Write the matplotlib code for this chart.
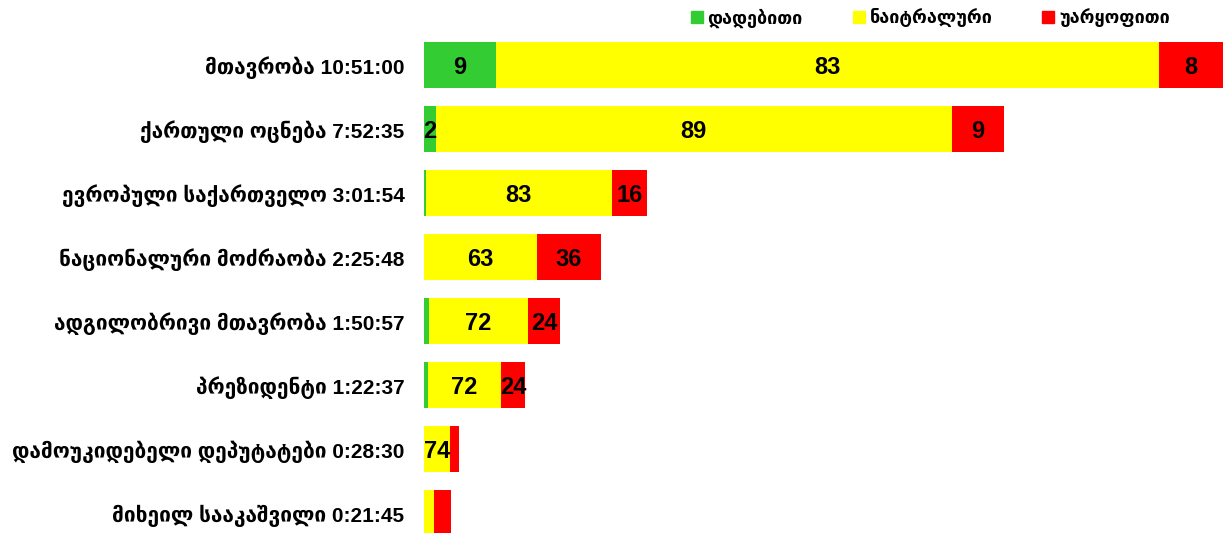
import matplotlib
matplotlib.use("Agg")
import matplotlib.pyplot as plt
from matplotlib.lines import Line2D

categories = ["მთავრობა 10:51:00", "ქართული ოცნება 7:52:35", "ევროპული საქართველო 3:01:54",
              "ნაციონალური მოძრაობა 2:25:48", "ადგილობრივი მთავრობა 1:50:57",
              "პრეზიდენტი 1:22:37", "დამოუკიდებელი დეპუტატები 0:28:30", "მიხეილ სააკაშვილი 0:21:45"]
durations = ["10:51:00", "7:52:35", "3:01:54", "2:25:48", "1:50:57", "1:22:37", "0:28:30", "0:21:45"]
positive = [9, 2, 1, 0, 4, 4, 0, 0]
neutral = [83, 89, 83, 63, 72, 72, 74, 37]
negative = [8, 9, 16, 36, 24, 24, 26, 63]
show_pos = [True, True, False, False, False, False, False, False]
show_neu = [True, True, True, True, True, True, True, False]
show_neg = [True, True, True, True, True, True, False, False]
series_names = ["დადებითი", "ნაიტრალური", "უარყოფითი"]
colors = ["#33CC33", "#FFFF00", "#FF0000"]

def secs(t):
    h, m, s = (int(x) for x in t.split(":"))
    return h * 3600 + m * 60 + s

tot = [secs(t) for t in durations]

fig = plt.figure(figsize=(12.23, 5.33), dpi=100)
ax = fig.add_axes([0.3467, -0.0225, 0.6533, 0.9606])
fam = ["Liberation Sans", "DejaVu Sans"]

y = list(range(len(categories)))
left = [0.0] * len(y)
for vals, shows, col in zip([positive, neutral, negative], [show_pos, show_neu, show_neg], colors):
    widths = [v / 100 * T for v, T in zip(vals, tot)]
    ax.barh(y, widths, left=left, height=0.73, color=col, edgecolor="none")
    for i, (w, l, v, sh) in enumerate(zip(widths, left, vals, shows)):
        if sh:
            ax.text(l + w / 2, i, str(v), ha="center", va="center_baseline", fontsize=17,
                    fontweight="bold", family=fam, color="black")
    left = [l + w for l, w in zip(left, widths)]

ax.set_xlim(0, max(tot))
ax.set_ylim(len(y) - 0.5, -0.5)
ax.set_yticks(y)
ax.set_yticklabels(categories, fontsize=15, fontweight="bold", family=fam)
ax.tick_params(axis="y", length=0, pad=14)
ax.set_xticks([])
for s in ax.spines.values():
    s.set_visible(False)

handles = [Line2D([0], [0], marker="s", linestyle="none", markersize=8,
                  markerfacecolor=c, markeredgecolor=c) for c in colors]
fig.legend(handles, series_names, loc="upper left", bbox_to_anchor=(0.549, 1.015), ncol=3,
           frameon=False, columnspacing=2.6, handletextpad=0.1, handlelength=1.0,
           prop={"family": fam, "size": 13, "weight": "bold"})

fig.savefig("out.png", dpi=100)
